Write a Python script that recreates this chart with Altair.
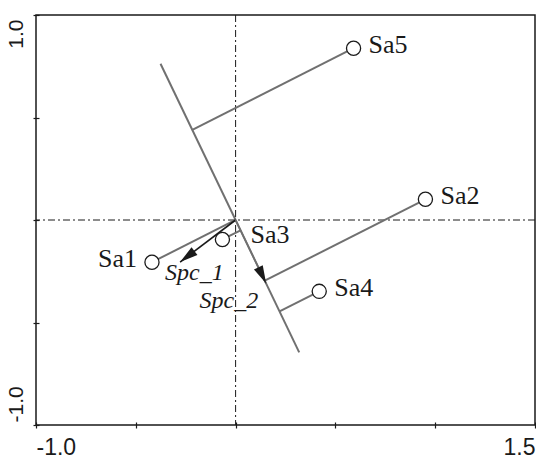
import math
import altair as alt
import pandas as pd

# Sample scores
samples = ["Sa1", "Sa2", "Sa3", "Sa4", "Sa5"]
sample_x = [-0.419, 0.951, -0.066, 0.419, 0.591]
sample_y = [-0.206, 0.101, -0.095, -0.348, 0.838]

# Species arrows
species = ["Spc_1", "Spc_2"]
species_x = [-0.278, 0.153]
species_y = [-0.205, -0.310]

# Extent of the Spc_2 biplot axis (signed lengths along its arrow)
axis_extent = [-0.85, 0.72]

x_ticks = [-1.0, -0.5, 0.0, 0.5, 1.0, 1.5]
x_tick_labels = ["-1.0", "", "", "", "", "1.5"]
y_ticks = [-1.0, -0.5, 0.0, 0.5, 1.0]
y_tick_labels = ["-1.0", "", "", "", "1.0"]

X_DOMAIN = [-1.0, 1.5]
Y_DOMAIN = [-1.0, 1.0]
W, H = 499, 410

GRAY = "#707070"
INK = "#1a1a1a"


def label_expr(values, labels):
    expr = "''"
    for v, t in zip(values, labels):
        if t:
            expr = f"abs(datum.value - ({v})) < 1e-6 ? '{t}' : ({expr})"
    return expr


# Projections of the samples onto the Spc_2 axis
ux, uy = species_x[1], species_y[1]
norm = math.hypot(ux, uy)
ux, uy = ux / norm, uy / norm
scores = [a * ux + b * uy for a, b in zip(sample_x, sample_y)]

proj = pd.DataFrame({
    "x": [t * ux for t in scores],
    "y": [t * uy for t in scores],
    "x2": sample_x,
    "y2": sample_y,
})

axis_line = pd.DataFrame({
    "x": [axis_extent[0] * ux], "y": [axis_extent[0] * uy],
    "x2": [axis_extent[1] * ux], "y2": [axis_extent[1] * uy],
})

pts = pd.DataFrame({"name": samples, "x": sample_x, "y": sample_y})

# arrowhead rotation, in screen degrees clockwise from "up"
sx, sy = W / (X_DOMAIN[1] - X_DOMAIN[0]), H / (Y_DOMAIN[1] - Y_DOMAIN[0])
arrows = pd.DataFrame({
    "name": species,
    "x0": [0.0, 0.0], "y0": [0.0, 0.0],
    "x": species_x, "y": species_y,
    "angle": [math.degrees(math.atan2(a * sx, b * sy)) % 360
              for a, b in zip(species_x, species_y)],
})

xs = alt.Scale(domain=X_DOMAIN, nice=False, zero=False)
ys = alt.Scale(domain=Y_DOMAIN, nice=False, zero=False)

x_axis = alt.Axis(
    values=x_ticks, labelExpr=label_expr(x_ticks, x_tick_labels),
    labelFlush=True, domain=False, offset=-3, tickSize=6, tickColor=INK,
    tickWidth=1.2, labelFont="Liberation Sans", labelFontSize=23,
    labelColor=INK, labelBaseline="alphabetic", labelPadding=26,
    grid=False, title=None,
)
y_axis = alt.Axis(
    values=y_ticks, labelExpr=label_expr(y_ticks, y_tick_labels),
    labelAngle=270, labelBaseline="alphabetic",
    labelAlign={"condition": {"test": "datum.value > 0", "value": "right"}, "value": "left"},
    labelOffset={"condition": {"test": "datum.value > 0", "value": 4}, "value": -3},
    domain=False, offset=-3, tickSize=6, tickColor=INK, tickWidth=1.2,
    labelFont="Liberation Sans", labelFontSize=21, labelColor=INK,
    labelPadding=11, grid=False, title=None,
)

base_x = alt.X("x:Q", scale=xs, axis=x_axis)
base_y = alt.Y("y:Q", scale=ys, axis=y_axis)

zero = pd.DataFrame({"v": [0.0]})
vline = alt.Chart(zero).mark_rule(color=INK, strokeWidth=1, strokeDash=[7, 3, 2, 3]).encode(
    x=alt.X("v:Q", scale=xs, axis=x_axis))
hline = alt.Chart(zero).mark_rule(color=INK, strokeWidth=1, strokeDash=[7, 3, 2, 3]).encode(
    y=alt.Y("v:Q", scale=ys, axis=y_axis))

axis_rule = alt.Chart(axis_line).mark_rule(color=GRAY, strokeWidth=2).encode(
    x=base_x, y=base_y, x2="x2:Q", y2="y2:Q")
proj_rules = alt.Chart(proj).mark_rule(color=GRAY, strokeWidth=2).encode(
    x=base_x, y=base_y, x2="x2:Q", y2="y2:Q")

shafts = alt.Chart(arrows).mark_rule(strokeWidth=1.6).encode(
    x=alt.X("x0:Q", scale=xs, axis=x_axis), y=alt.Y("y0:Q", scale=ys, axis=y_axis),
    x2="x:Q", y2="y:Q",
    color=alt.condition("datum.name == 'Spc_1'", alt.value(INK), alt.value(GRAY)),
)
heads = alt.Chart(arrows).mark_point(
    shape="M0,0L-0.27,1L0.27,1Z", filled=True, size=1300, opacity=1, color=INK
).encode(x=base_x, y=base_y, angle=alt.Angle("angle:Q", scale=None))

circles = alt.Chart(pts).mark_point(
    shape="circle", filled=True, fill="white", stroke=INK, strokeWidth=1.3,
    size=200, opacity=1
).encode(x=base_x, y=base_y)

serif = dict(font="Liberation Serif", fontSize=26, color=INK, baseline="middle")
lab_right = alt.Chart(pts).transform_filter(
    alt.FieldOneOfPredicate(field="name", oneOf=["Sa2", "Sa4", "Sa5"])
).mark_text(align="left", dx=15, dy=-3, **serif).encode(x=base_x, y=base_y, text="name:N")
lab_left = alt.Chart(pts).transform_filter("datum.name == 'Sa1'").mark_text(
    align="right", dx=-15, dy=-3, **serif).encode(x=base_x, y=base_y, text="name:N")
lab_sa3 = alt.Chart(pts).transform_filter("datum.name == 'Sa3'").mark_text(
    align="left", dx=28, dy=-4, **serif).encode(x=base_x, y=base_y, text="name:N")

italic = dict(font="Liberation Serif", fontSize=24, fontStyle="italic", color=INK,
              baseline="middle")
spc1 = alt.Chart(arrows).transform_filter("datum.name == 'Spc_1'").mark_text(
    align="left", dx=-15, dy=11, **italic).encode(x=base_x, y=base_y, text="name:N")
spc2 = alt.Chart(arrows).transform_filter("datum.name == 'Spc_2'").mark_text(
    align="right", dx=-8, dy=17, **italic).encode(x=base_x, y=base_y, text="name:N")

chart = alt.layer(
    vline, hline, axis_rule, proj_rules, shafts, heads, circles,
    lab_right, lab_left, lab_sa3, spc1, spc2,
).properties(
    width=W, height=H,
    autosize=alt.AutoSizeParams(type="none"),
    padding={"left": 36, "top": 15, "right": 1, "bottom": 33},
    background="white",
).configure_view(stroke=INK, strokeWidth=1.5)

chart.save("out.html", embed_options={"renderer": "svg", "actions": False})
